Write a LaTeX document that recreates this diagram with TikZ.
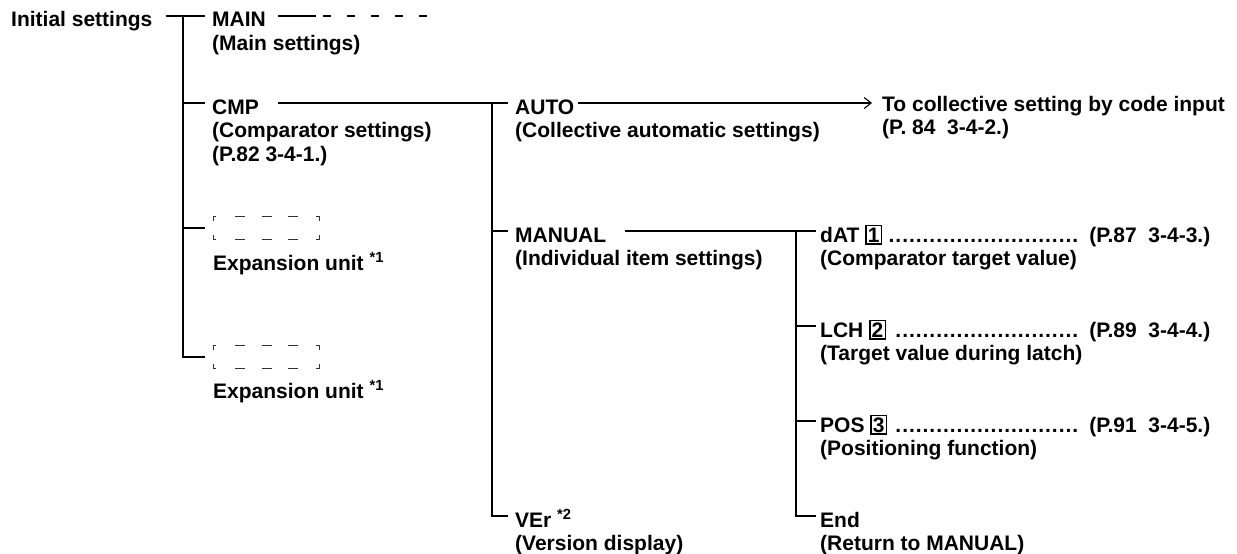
\documentclass[tikz,border=0pt]{standalone}
\usepackage{fontspec}
\setmainfont{Liberation Sans}
\usepackage{tikz}
\usetikzlibrary{arrows.meta,positioning,calc}
\newcommand{\numbox}[1]{{\setlength{\fboxsep}{1.2pt}\setlength{\fboxrule}{1.3pt}\fbox{#1}}}
\newcommand{\dotrule}{\leaders\hbox to 6.8pt{\hss.\hss}\hfill}
\tikzset{
  item/.style={inner sep=0pt, anchor=base west, text height=22pt, text depth=0pt},
  note/.style={inner sep=0pt, anchor=base west, align=left},
  link/.style={line width=1.1pt},
  expbox/.style={inner sep=0pt, anchor=west, minimum width=106pt, minimum height=23pt},
  expmark/.style={line width=1pt, black!80}
}

\begin{document}
\begin{tikzpicture}[x=1pt, y=-1pt, font=\fontsize{21}{23.5}\selectfont\bfseries]
\useasboundingbox (0,0) rectangle (1237,554);

% first level
\node[item] (init) at (11,27) {Initial settings};
\node[item] (main) at (212,27) {MAIN};
\node[note] (mainnote) at ([yshift=-23.5pt]main.base west) {(Main settings)};
\node[item] (cmp) at (212,114) {CMP};
\node[note] (cmpnote) at ([yshift=-47pt]cmp.base west) {(Comparator settings)\\(P.82 3-4-1.)};
\node[expbox] (exp1) at (213,228) {};
\node[note] (exp1note) at (213,270) {Expansion unit \textsuperscript{*1}};
\node[expbox] (exp2) at (213,357) {};
\node[note] (exp2note) at (213,398) {Expansion unit \textsuperscript{*1}};

% second level
\node[item] (auto) at (515,114) {AUTO};
\node[note] (autonote) at ([yshift=-23.5pt]auto.base west) {(Collective automatic settings)};
\node[item] (target) at (882,111) {To collective setting by code input};
\node[note] (targetnote) at ([yshift=-23.5pt]target.base west) {(P. 84\ \ 3-4-2.)};
\node[item] (manual) at (515,242) {MANUAL};
\node[note] (manualnote) at ([yshift=-23.5pt]manual.base west) {(Individual item settings)};
\node[item] (ver) at (515,527) {VEr \textsuperscript{*2}};
\node[note] (vernote) at ([yshift=-23.5pt]ver.base west) {(Version display)};

% third level
\node[item] (dat) at (820,242) {\hbox to 390pt{dAT \numbox{1} \dotrule\ (P.87\ \ 3-4-3.)}};
\node[note] (datnote) at ([yshift=-23.5pt]dat.base west) {(Comparator target value)};
\node[item] (lch) at (820,337) {\hbox to 390pt{LCH \numbox{2} \dotrule\ (P.89\ \ 3-4-4.)}};
\node[note] (lchnote) at ([yshift=-23.5pt]lch.base west) {(Target value during latch)};
\node[item] (pos) at (820,432) {\hbox to 390pt{POS \numbox{3} \dotrule\ (P.91\ \ 3-4-5.)}};
\node[note] (posnote) at ([yshift=-23.5pt]pos.base west) {(Positioning function)};
\node[item] (enditem) at (820,527) {End};
\node[note] (endnote) at ([yshift=-23.5pt]enditem.base west) {(Return to MANUAL)};

% trunks
\coordinate (t1) at ([xshift=-29pt]main.west);
\coordinate (t2) at ([xshift=-23pt]auto.west);
\coordinate (t3) at ([xshift=-24pt]dat.west);

\draw[link] ([xshift=13pt]init.east) -- ([xshift=-7pt]main.west);
\draw[link] (t1) |- ([xshift=-8pt]exp2.west);
\draw[link] (t1 |- cmp.west) -- ([xshift=-7pt]cmp.west);
\draw[link] (t1 |- exp1.west) -- ([xshift=-8pt]exp1.west);
\draw[link] ([xshift=12pt]main.east) -- ++(38,0) coordinate (mainstub);
\draw[link, dash pattern=on 8pt off 16pt] ([xshift=7pt]mainstub) -- ++(104,0);

\draw[link] ([xshift=19pt]cmp.east) -- ([xshift=-7pt]auto.west);
\draw[link] (t2) |- ([xshift=-7pt]ver.west);
\draw[link] (t2 |- manual.west) -- ([xshift=-7pt]manual.west);
\draw[link, -{Straight Barb[length=7pt,width=11pt]}] ([xshift=3pt]auto.east) -- ([xshift=-10pt]auto.east -| target.west);

\draw[link] ([xshift=19pt]manual.east) -- ([xshift=-4pt]dat.west);
\draw[link] (t3) |- ([xshift=-4pt]enditem.west);
\draw[link] (t3 |- lch.west) -- ([xshift=-4pt]lch.west);
\draw[link] (t3 |- pos.west) -- ([xshift=-4pt]pos.west);

% dashed expansion boxes
\foreach \b in {exp1,exp2} {
  \draw[expmark] ([yshift=-5pt]\b.north west) -- (\b.north west) -- ([xshift=3pt]\b.north west);
  \draw[expmark] ([yshift=-5pt]\b.north east) -- (\b.north east) -- ([xshift=-3pt]\b.north east);
  \draw[expmark] ([yshift=5pt]\b.south west) -- (\b.south west) -- ([xshift=3pt]\b.south west);
  \draw[expmark] ([yshift=5pt]\b.south east) -- (\b.south east) -- ([xshift=-3pt]\b.south east);
  \draw[expmark, dash pattern=on 10pt off 16.5pt] ([xshift=22pt]\b.north west) -- ([xshift=85pt]\b.north west);
  \draw[expmark, dash pattern=on 10pt off 16.5pt] ([xshift=22pt]\b.south west) -- ([xshift=85pt]\b.south west);
}
\end{tikzpicture}
\end{document}
